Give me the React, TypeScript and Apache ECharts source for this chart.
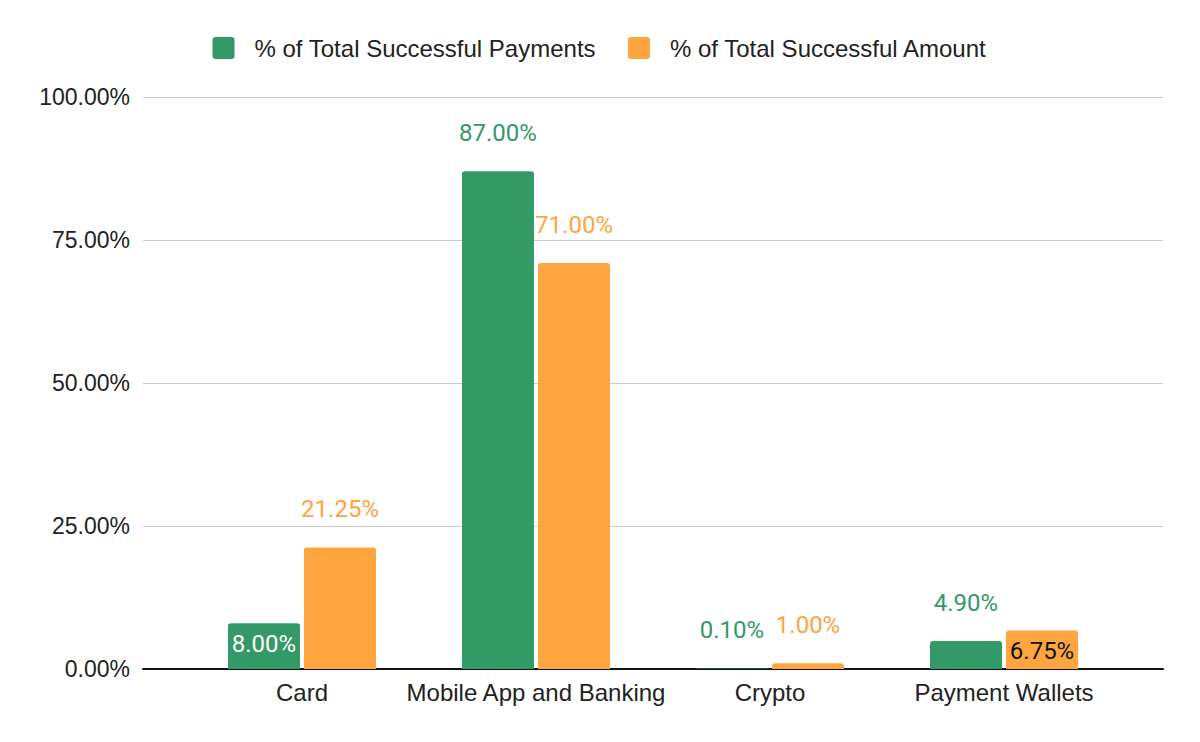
import React, { useEffect, useRef } from "react";
import * as echarts from "echarts";

const categories = ["Card", "Mobile App and Banking", "Crypto", "Payment Wallets"];
const paymentsPct = [8.0, 87.0, 0.1, 4.9];
const amountPct = [21.25, 71.0, 1.0, 6.75];
const yTicks = [0, 25, 50, 75, 100];
const seriesNames = ["% of Total Successful Payments", "% of Total Successful Amount"];

const GREEN = "#339966";
const ORANGE = "#FFA53F";
const AXIS_FONT = "'Liberation Sans', Arial, sans-serif";
const LABEL_FONT = "Roboto, 'Noto Sans', sans-serif";

export default function App() {
  const ref = useRef<HTMLDivElement>(null);
  useEffect(() => {
    if (!ref.current) return;
    const chart = echarts.init(ref.current, undefined, { renderer: "svg" });
    const fmt = (v: number) => v.toFixed(2) + "%";
    const labelBase = {
      show: true,
      position: "top",
      distance: 26,
      fontFamily: LABEL_FONT,
      fontSize: 24,
      formatter: (p: any) => fmt(p.value),
    };
    chart.setOption({
      animation: false,
      backgroundColor: "#ffffff",
      legend: {
        top: 31,
        left: "center",
        itemWidth: 22,
        itemHeight: 22,
        itemGap: 32,
        icon: "path://M3,0 L19,0 Q22,0 22,3 L22,19 Q22,22 19,22 L3,22 Q0,22 0,19 L0,3 Q0,0 3,0 Z",
        textStyle: {
          fontFamily: AXIS_FONT,
          fontSize: 24,
          color: "#222",
          padding: [0, 0, 0, 15],
        },
        data: seriesNames,
      },
      grid: [
        { left: 143, right: 37, top: 97, bottom: 73 },
        { left: 185, right: 79, top: 97, bottom: 73 },
      ],
      xAxis: [
        {
          type: "value",
          gridIndex: 0,
          min: 0,
          max: 1,
          axisLine: { show: true, lineStyle: { color: "#111", width: 2 } },
          axisTick: { show: false },
          axisLabel: { show: false },
          splitLine: { show: false },
        },
        {
          type: "category",
          gridIndex: 1,
          data: categories,
          axisLine: { show: false },
          axisTick: { show: false },
          axisLabel: {
            interval: 0,
            margin: 11,
            fontFamily: AXIS_FONT,
            fontSize: 24,
            color: "#222",
          },
        },
      ],
      yAxis: [
        {
          type: "value",
          gridIndex: 0,
          min: yTicks[0],
          max: yTicks[yTicks.length - 1],
          interval: 25,
          axisLine: { show: false },
          axisTick: { show: false },
          axisLabel: {
            margin: 13,
            fontFamily: AXIS_FONT,
            fontSize: 23,
            color: "#222",
            formatter: (v: number) => fmt(v),
          },
          splitLine: { lineStyle: { color: "#cccccc", width: 1 } },
        },
        {
          type: "value",
          gridIndex: 1,
          min: yTicks[0],
          max: yTicks[yTicks.length - 1],
          interval: 25,
          show: false,
          splitLine: { show: false },
        },
      ],
      series: [
        {
          name: seriesNames[0],
          type: "bar",
          xAxisIndex: 1,
          yAxisIndex: 1,
          barWidth: 72,
          barGap: "5.6%",
          itemStyle: { color: GREEN, borderRadius: [3, 3, 0, 0] },
          label: { ...labelBase, color: GREEN },
          data: paymentsPct.map((v, i) =>
            i === 0
              ? { value: v, label: { position: "insideTop", distance: 9, color: "#ffffff" } }
              : { value: v }
          ),
        },
        {
          name: seriesNames[1],
          type: "bar",
          xAxisIndex: 1,
          yAxisIndex: 1,
          barWidth: 72,
          barGap: "5.6%",
          itemStyle: { color: ORANGE, borderRadius: [3, 3, 0, 0] },
          label: { ...labelBase, color: ORANGE },
          data: amountPct.map((v, i) =>
            i === 3
              ? { value: v, label: { position: "insideTop", distance: 9, color: "#111111" } }
              : { value: v }
          ),
        },
      ],
    });
    return () => chart.dispose();
  }, []);
  return (
    <div
      ref={ref}
      style={{ position: "fixed", left: 0, top: 0, width: 1200, height: 742, background: "#fff" }}
    />
  );
}
